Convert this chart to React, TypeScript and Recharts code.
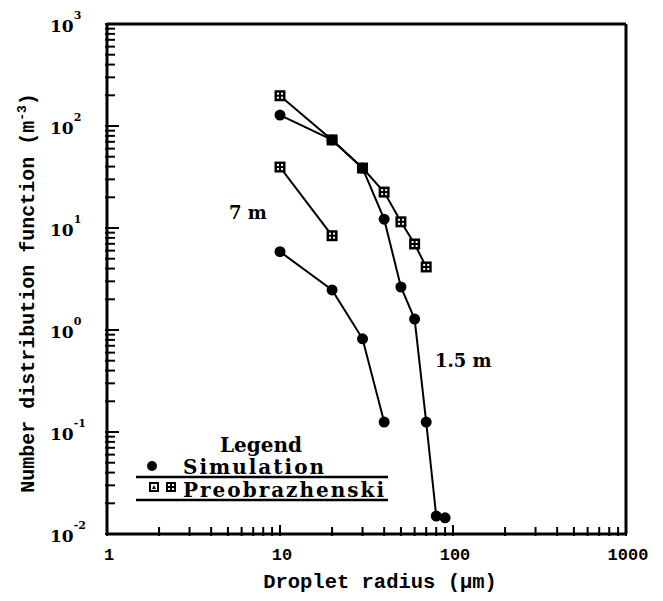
import React from "react";
import { ScatterChart, Scatter, XAxis, YAxis, ReferenceLine } from "recharts";

// droplet radius (µm) and number distribution (m^-3)
const radiusSim15 = [10, 20, 30, 40, 50, 60, 70, 80, 90];
const valuesSim15 = [128, 73, 38.7, 12.2, 2.64, 1.28, 0.125, 0.015, 0.0144];
const radiusPre15 = [10, 20, 30, 40, 50, 60, 70];
const valuesPre15 = [198, 73, 38.7, 22.5, 11.5, 6.97, 4.15];
const radiusSim7 = [10, 20, 30, 40];
const valuesSim7 = [5.86, 2.47, 0.82, 0.125];
const radiusPre7 = [10, 20];
const valuesPre7 = [39.6, 8.4];

const xDecades = [1, 10, 100];
const yDecades = [0.01, 0.1, 1, 10, 100];
const minorSteps = [1, 2, 3, 4, 5, 6, 7, 8, 9];
const xTicks = [...xDecades.flatMap((d) => minorSteps.map((s) => s * d)), 1000];
const yTicks = [...yDecades.flatMap((d) => minorSteps.map((s) => s * d)), 1000];

const SERIF = "'DejaVu Serif', serif";
const MONO = "'Liberation Mono', 'Courier New', monospace";

const toPoints = (xs: number[], ys: number[]) => xs.map((x, i) => ({ x, y: ys[i] }));

const isMajor = (v: number) => {
  const e = Math.log10(v);
  return Math.abs(e - Math.round(e)) < 1e-6;
};

// ticks point inward, majors a bit longer; start under the axis line
function XTick(props: any) {
  const { x, y, payload } = props;
  const v = payload.value;
  const major = isMajor(v);
  return (
    <g>
      <line x1={x} x2={x} y1={y + 2} y2={y - (major ? 9 : 7)} stroke="#000" strokeWidth={2} />
      {major ? (
        <text x={x + 2} y={y + 26} textAnchor="middle" fontFamily={MONO} fontWeight="bold" fontSize={17} fill="#000">
          {String(v)}
        </text>
      ) : null}
    </g>
  );
}

function YTick(props: any) {
  const { x, y, payload } = props;
  const v = payload.value;
  const major = isMajor(v);
  const exp = Math.round(Math.log10(v));
  return (
    <g>
      <line x1={x - 2} x2={x + (major ? 12 : 8)} y1={y} y2={y} stroke="#000" strokeWidth={2} />
      {major ? (
        <text x={x - 57} y={y + 8} textAnchor="start" fontFamily={SERIF} fontWeight="bold" fontSize={17} fill="#000">
          10<tspan dx={0} dy={-13} fontSize={11}>{String(exp)}</tspan>
        </text>
      ) : null}
    </g>
  );
}

function Dot(props: any) {
  const { cx, cy } = props;
  return <circle cx={cx} cy={cy} r={5.5} fill="#000" />;
}

function Box(props: any) {
  const { cx, cy } = props;
  return (
    <g>
      <rect x={cx - 5.5} y={cy - 5.5} width={11} height={11} fill="#000" />
      <rect x={cx - 3} y={cy - 3} width={2} height={2} fill="#fff" />
      <rect x={cx + 1} y={cy - 3} width={2} height={2} fill="#fff" />
      <rect x={cx - 3} y={cy + 1} width={2} height={2} fill="#fff" />
      <rect x={cx + 1} y={cy + 1} width={2} height={2} fill="#fff" />
    </g>
  );
}

const lineStyle = { stroke: "#000", strokeWidth: 2 };

export default function App() {
  return (
    <div style={{ position: "fixed", left: 0, top: 0, width: 663, height: 601, background: "#fff" }}>
      <ScatterChart width={663} height={601} margin={{ top: 24, right: 37, bottom: 27, left: 47 }}>
        <XAxis
          dataKey="x"
          type="number"
          scale="log"
          domain={[1, 1000]}
          allowDataOverflow
          ticks={xTicks}
          interval={0}
          height={40}
          tickSize={0}
          tickMargin={0}
          tick={<XTick />}
          axisLine={{ stroke: "#000", strokeWidth: 3 }}
          tickLine={false}
        />
        <YAxis
          dataKey="y"
          type="number"
          scale="log"
          domain={[0.01, 1000]}
          allowDataOverflow
          ticks={yTicks}
          interval={0}
          width={60}
          tickSize={0}
          tickMargin={0}
          tick={<YTick />}
          axisLine={{ stroke: "#000", strokeWidth: 3 }}
          tickLine={false}
        />
        <ReferenceLine y={1000} stroke="#000" strokeWidth={3} />
        <ReferenceLine x={1000} stroke="#000" strokeWidth={3} />
        <Scatter data={toPoints(radiusPre15, valuesPre15)} line={lineStyle} shape={<Box />} isAnimationActive={false} />
        <Scatter data={toPoints(radiusPre7, valuesPre7)} line={lineStyle} shape={<Box />} isAnimationActive={false} />
        <Scatter data={toPoints(radiusSim15, valuesSim15)} line={lineStyle} shape={<Dot />} isAnimationActive={false} />
        <Scatter data={toPoints(radiusSim7, valuesSim7)} line={lineStyle} shape={<Dot />} isAnimationActive={false} />
      </ScatterChart>
      <svg width={663} height={601} style={{ position: "absolute", left: 0, top: 0, pointerEvents: "none" }}>
        <text
          transform="rotate(-90 27 293)"
          x={27}
          y={293}
          dy="0.35em"
          textAnchor="middle"
          fontFamily={MONO}
          fontWeight="bold"
          fontSize={20}
          fill="#000"
        >
          Number distribution function (m<tspan fontSize={13} dy={-8}>-3</tspan><tspan dy={8}>)</tspan>
        </text>
        <text x={380} y={588} textAnchor="middle" fontFamily={MONO} fontWeight="bold" fontSize={20.5} fill="#000">
          Droplet radius (µm)
        </text>
        <g fontFamily={SERIF} fill="#000">
          <text x={229} y={219} fontSize={18} fontWeight="bold">7 m</text>
          <text x={435} y={367} fontSize={18} fontWeight="bold">1.5 m</text>
          <text x={261} y={452} textAnchor="middle" fontSize={20} fontWeight="bold">Legend</text>
          <text x={183} y={474} fontSize={20} fontWeight="bold" letterSpacing={2}>Simulation</text>
          <text x={183} y={497} fontSize={20} fontWeight="bold" letterSpacing={2}>Preobrazhenski</text>
        </g>
        <line x1={136} x2={388} y1={477} y2={477} stroke="#000" strokeWidth={2.5} />
        <line x1={136} x2={388} y1={500} y2={500} stroke="#000" strokeWidth={2.5} />
        <circle cx={152} cy={466} r={5} fill="#000" />
        <rect x={149} y={482} width={10} height={10} fill="#000" />
        <rect x={151} y={484} width={6} height={6} fill="#fff" />
        <path d="M152 489 L154 485 L156 489 Z" fill="#000" />
        <rect x={166} y={482} width={10} height={10} fill="#000" />
        <rect x={168} y={484} width={2} height={2} fill="#fff" />
        <rect x={172} y={484} width={2} height={2} fill="#fff" />
        <rect x={168} y={488} width={2} height={2} fill="#fff" />
        <rect x={172} y={488} width={2} height={2} fill="#fff" />
      </svg>
    </div>
  );
}
